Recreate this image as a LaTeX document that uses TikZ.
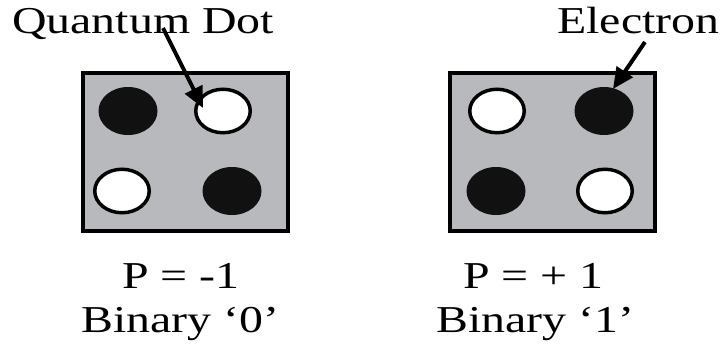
\documentclass[tikz,border=0pt]{standalone}
\usepackage{fontspec}
\setmainfont{Liberation Serif}
\usetikzlibrary{arrows.meta,shapes.geometric}
\definecolor{chipgray}{RGB}{184,185,189}
\definecolor{dotblack}{RGB}{17,17,17}
\newcommand{\wide}[1]{\scalebox{1.26}[1]{#1}}
\tikzset{
  chip/.style={draw=black,line width=4pt,fill=chipgray},
  wdot/.style={ellipse,draw=black,line width=3.5pt,fill=white,minimum width=54.5pt,minimum height=43.5pt,inner sep=0pt},
  bdot/.style={ellipse,fill=dotblack,minimum width=59pt,minimum height=48pt,inner sep=0pt},
  lbl/.style={anchor=base west,inner sep=0pt,font=\fontsize{38}{40}\selectfont},
  pointer/.style={draw=black,line width=4pt,-{Triangle[length=21pt,width=19pt]}}
}
\begin{document}
\begin{tikzpicture}[x=1pt,y=-1pt]
\useasboundingbox[fill=white] (0,0) rectangle (724,348);
% left chip
\draw[chip] (83,73) rectangle (288,231);
\node[bdot] (l1) at (128,111) {};
\node[wdot] (l2) at (223,111) {};
\node[wdot] (l3) at (122,191) {};
\node[bdot] (l4) at (232,191) {};
% right chip
\draw[chip] (450,73) rectangle (655,231);
\node[wdot] (r1) at (497,111) {};
\node[bdot] (r2) at (604,111) {};
\node[bdot] (r3) at (496,191) {};
\node[wdot] (r4) at (605,191) {};
% labels
\node[lbl] (qd) at (12,33) {\wide{Quantum Dot}};
\node[lbl] (el) at (557,33) {\wide{Electron}};
\node[lbl] (p0) at (122,288) {\wide{P = -1}};
\node[lbl] (b0) at (81,332) {\wide{Binary ‘0’}};
\node[lbl] (p1) at (463,288) {\wide{P = + 1}};
\node[lbl] (b1) at (436,332) {\wide{Binary ‘1’}};
% arrows
\coordinate (qs) at (163,28);
\coordinate (qt) at (203,108);
\coordinate (es) at (645,42);
\coordinate (et) at (613,89);
\draw[pointer] (qs) -- (qt);
\draw[pointer] (es) -- (et);
\end{tikzpicture}
\end{document}
